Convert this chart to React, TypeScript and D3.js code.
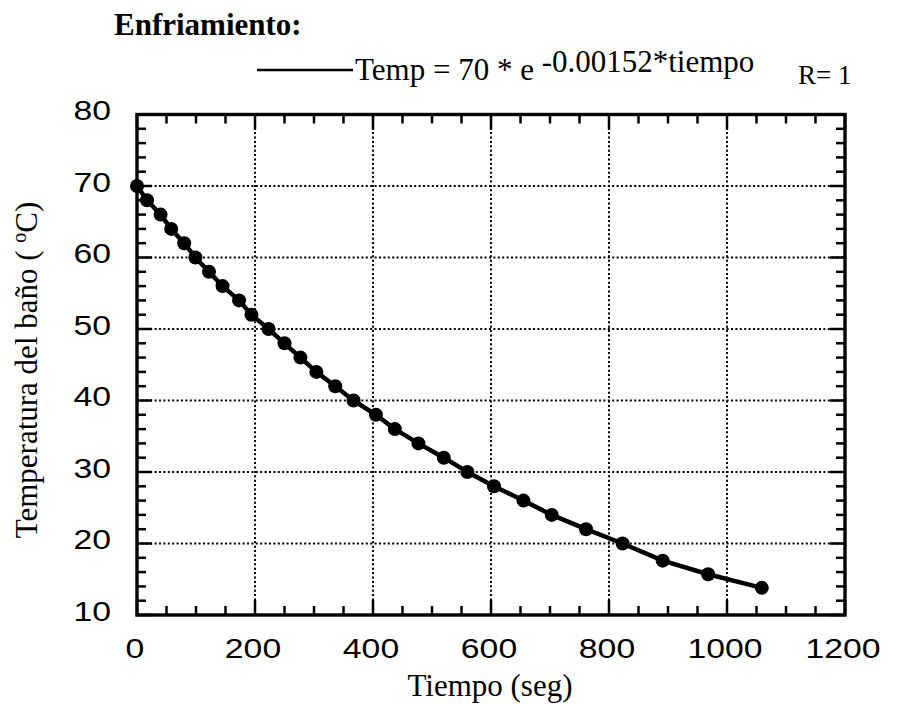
import React from "react";
import * as d3 from "d3";

const tiempo = [0, 17, 40, 58, 80, 99, 122, 145, 173, 194, 223, 250, 277, 304, 336, 367, 405, 437, 477, 520, 560, 605, 655, 703, 761, 823, 891, 968, 1059];
const temperatura = [70, 68, 66, 64, 62, 60, 58, 56, 54, 52, 50, 48, 46, 44, 42, 40, 38, 36, 34, 32, 30, 28, 26, 24, 22, 20, 17.6, 15.7, 13.8];
const xTicks = [0, 200, 400, 600, 800, 1000, 1200];
const yTicks = [10, 20, 30, 40, 50, 60, 70, 80];
const xMinor = d3.range(0, 1201, 50);
const yMinor = d3.range(10, 80.1, 2);

const W = 897;
const H = 704;
const L = 137, R = 845, T = 114.5, B = 615;

export default function App() {
  const x = d3.scaleLinear().domain([0, 1200]).range([L, R]);
  const y = d3.scaleLinear().domain([10, 80]).range([B, T]);
  const pts = tiempo.map((t, i) => [t, temperatura[i]] as [number, number]);
  const line = d3.line<[number, number]>().x(d => x(d[0])).y(d => y(d[1]));
  const serif = "'Liberation Serif', 'Times New Roman', serif";
  const sans = "'Liberation Sans', Arial, sans-serif";
  return (
    <svg width={W} height={H} style={{ position: "absolute", left: 0, top: 0, background: "#fff" }}>
      <rect x={0} y={0} width={W} height={H} fill="#fff" />
      {/* grid */}
      {xTicks.slice(1, -1).map(v => (
        <line key={"gx" + v} x1={x(v)} x2={x(v)} y1={T} y2={B} stroke="#000" strokeWidth={2} strokeDasharray="2 2.4" />
      ))}
      {yTicks.slice(1, -1).map(v => (
        <line key={"gy" + v} x1={L} x2={R} y1={y(v)} y2={y(v)} stroke="#000" strokeWidth={2} strokeDasharray="2 2.4" />
      ))}
      {/* minor/major ticks, inward on all four sides */}
      {xMinor.map(v => {
        const len = v % 200 === 0 ? 15 : 9;
        return (
          <g key={"tx" + v}>
            <line x1={x(v)} x2={x(v)} y1={B} y2={B - len} stroke="#000" strokeWidth={2.5} />
            <line x1={x(v)} x2={x(v)} y1={T} y2={T + len} stroke="#000" strokeWidth={2.5} />
          </g>
        );
      })}
      {yMinor.map(v => {
        const len = Math.round(v) % 10 === 0 ? 15 : 9;
        return (
          <g key={"ty" + v}>
            <line x1={L} x2={L + len} y1={y(v)} y2={y(v)} stroke="#000" strokeWidth={2.5} />
            <line x1={R} x2={R - len} y1={y(v)} y2={y(v)} stroke="#000" strokeWidth={2.5} />
          </g>
        );
      })}
      {/* frame */}
      <rect x={L} y={T} width={R - L} height={B - T} fill="none" stroke="#000" strokeWidth={3.4} />
      {/* data */}
      <path d={line(pts) || ""} fill="none" stroke="#000" strokeWidth={4.5} strokeLinejoin="round" />
      {pts.map((d, i) => (
        <circle key={"p" + i} cx={x(d[0])} cy={y(d[1])} r={7} fill="#000" />
      ))}
      {/* tick labels */}
      {xTicks.map(v => (
        <text key={"lx" + v} transform={`translate(${x(v) - 2}, 658) scale(1.25, 1)`} textAnchor="middle" fontFamily={sans} fontSize={27} fill="#000">{v}</text>
      ))}
      {yTicks.map(v => (
        <text key={"ly" + v} transform={`translate(111, ${y(v) + 5.5}) scale(1.25, 1)`} textAnchor="end" fontFamily={sans} fontSize={27} fill="#000">{v}</text>
      ))}
      {/* axis titles */}
      <text x={490} y={696} textAnchor="middle" fontFamily={serif} fontSize={31} fill="#000">Tiempo (seg)</text>
      <text transform={`translate(37, 370) rotate(-90)`} textAnchor="middle" fontFamily={serif} fontSize={31} fill="#000">
        Temperatura del baño ( <tspan fontSize={20} dy={-11}>o</tspan><tspan dy={11}>C)</tspan>
      </text>
      {/* title */}
      <text x={114} y={35} fontFamily={serif} fontWeight="bold" fontSize={31} fill="#000">Enfriamiento:</text>
      {/* legend */}
      <line x1={257} x2={353} y1={70} y2={70} stroke="#000" strokeWidth={2.5} />
      <text x={355} y={80} fontFamily={serif} fontSize={31} fill="#000">
        Temp = 70 * e <tspan dy={-8}>-0.00152*tiempo</tspan>
      </text>
      <text x={798} y={84} fontFamily={serif} fontSize={27} fill="#000">R= 1</text>
    </svg>
  );
}
